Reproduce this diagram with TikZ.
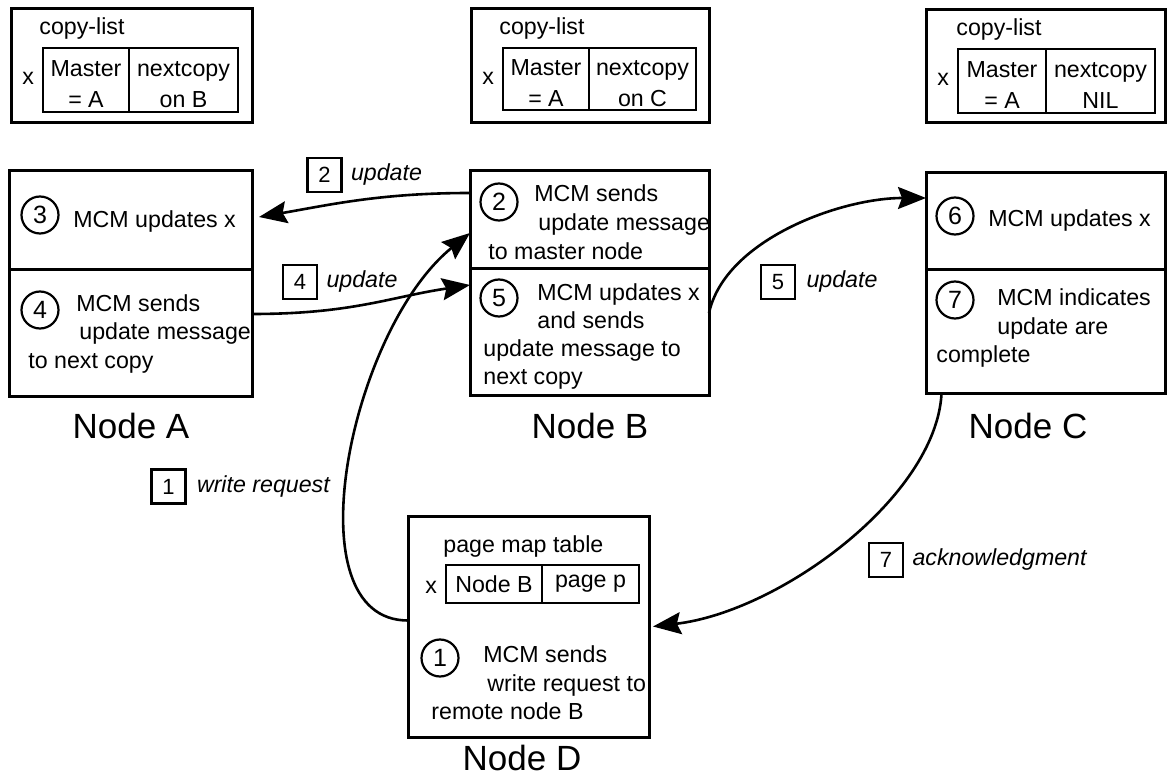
\documentclass[tikz,border=0pt]{standalone}
\usepackage{fontspec}
\setmainfont{Liberation Sans}
\usetikzlibrary{arrows.meta,positioning}

\begin{document}
\begin{tikzpicture}[x=0.5pt,y=-0.5pt,
	every node/.style={font=\fontsize{11.6}{15.5}\selectfont},
	box/.style={draw,line width=1.5pt,anchor=north west,inner sep=0pt,outer sep=0pt},
	cell/.style={draw,line width=1.2pt,anchor=north west,inner sep=0pt,outer sep=0pt,align=center},
	txt/.style={anchor=base west,inner sep=0pt},
	num/.style={circle,draw,line width=1.1pt,minimum size=18.5pt,inner sep=0pt,font=\fontsize{12.5}{14}\selectfont},
	tag/.style={draw,line width=1.1pt,minimum size=17pt,inner sep=0pt,font=\fontsize{11}{13}\selectfont},
	lbl/.style={inner sep=0pt,font=\fontsize{11.6}{14}\selectfont\itshape},
	title/.style={anchor=base,inner sep=0pt,font=\fontsize{17.5}{20}\selectfont},
	conn/.style={line width=1.3pt,-{Stealth[length=14pt,width=11pt,inset=2pt]}}]
	\useasboundingbox (0,0) rectangle (1167,780);

	\node[box,minimum width=120.5pt,minimum height=57pt] (listA) at (11,9) {};
	\node[txt] (listAt) at (39,35) {copy-list};
	\node[txt] (listAx) at (22,85) {x};
	\node[cell,minimum width=43pt,minimum height=32pt] (mastA) at (43,48) {\rule{0pt}{12.5pt}Master\\= A};
	\node[cell,minimum width=54.5pt,minimum height=32pt] (nextA) at (mastA.north east) {\rule{0pt}{12.5pt}nextcopy\\on B};

	\node[box,minimum width=119pt,minimum height=57pt] (listB) at (471,9) {};
	\node[txt] (listBt) at (499,35) {copy-list};
	\node[txt] (listBx) at (482,85) {x};
	\node[cell,minimum width=43pt,minimum height=31pt] (mastB) at (503,48) {\rule{0pt}{12.5pt}Master\\= A};
	\node[cell,minimum width=53.5pt,minimum height=31pt] (nextB) at (mastB.north east) {\rule{0pt}{12.5pt}nextcopy\\on C};

	\node[box,minimum width=119.5pt,minimum height=56.5pt] (listC) at (926,10) {};
	\node[txt] (listCt) at (956,36) {copy-list};
	\node[txt] (listCx) at (937,86) {x};
	\node[cell,minimum width=44pt,minimum height=32pt] (mastC) at (958,49) {\rule{0pt}{12.5pt}Master\\= A};
	\node[cell,minimum width=54.5pt,minimum height=32pt] (nextC) at (mastC.north east) {\rule{0pt}{12.5pt}nextcopy\\NIL};

	\node[box,minimum width=121.5pt,minimum height=49.5pt] (aUp) at (9,171) {};
	\node[box,minimum width=121.5pt,minimum height=63.5pt] (aLow) at (aUp.south west) {};
	\node[num] (a3) at (40,215) {3};
	\node[txt] (a3l1) at (73,228) {MCM updates x};
	\node[num] (a4) at (40,310) {4};
	\node[txt] (a4l1) at (76,312) {MCM sends};
	\node[txt] (a4l2) at (79,340) {update message};
	\node[txt] (a4l3) at (28,369) {to next copy};
	\node[title] (titleA) at (131,438) {Node A};

	\node[box,minimum width=119.5pt,minimum height=49pt] (bUp) at (470,171) {};
	\node[box,minimum width=119.5pt,minimum height=63.5pt] (bLow) at (bUp.south west) {};
	\node[num] (b2) at (499,202) {2};
	\node[txt] (b2l1) at (534,202) {MCM sends};
	\node[txt] (b2l2) at (538,231) {update message};
	\node[txt] (b2l3) at (488,260) {to master node};
	\node[num] (b5) at (499,298) {5};
	\node[txt] (b5l1) at (537,301) {MCM updates x};
	\node[txt] (b5l2) at (537,329) {and sends};
	\node[txt] (b5l3) at (483,357) {update message to};
	\node[txt] (b5l4) at (483,385) {next copy};
	\node[title] (titleB) at (590,438) {Node B};

	\node[box,minimum width=119.5pt,minimum height=48.5pt] (cUp) at (926,173) {};
	\node[box,minimum width=119.5pt,minimum height=62pt] (cLow) at (cUp.south west) {};
	\node[num] (c6) at (955,216) {6};
	\node[txt] (c6l1) at (988,227) {MCM updates x};
	\node[num] (c7) at (955,300) {7};
	\node[txt] (c7l1) at (997,306) {MCM indicates};
	\node[txt] (c7l2) at (997,335) {update are};
	\node[txt] (c7l3) at (936,363) {complete};
	\node[title] (titleC) at (1028,438) {Node C};

	\node[box,minimum width=120.5pt,minimum height=110.5pt] (dBox) at (408,516) {};
	\node[txt] (mapt) at (443,552) {page map table};
	\node[txt] (mapx) at (425,593) {x};
	\node[cell,minimum width=48pt,minimum height=19pt] (mapNode) at (446,565) {Node B};
	\node[cell,minimum width=48.5pt,minimum height=19pt] (mapPage) at (mapNode.north east) {page p};
	\node[num] (d1) at (440,658) {1};
	\node[txt] (d1l1) at (483,662) {MCM sends};
	\node[txt] (d1l2) at (487,691) {write request to};
	\node[txt] (d1l3) at (431,719) {remote node B};
	\node[title] (titleD) at (522,770) {Node D};

	\node[tag] (t1) at (168.5,486.5) {1};
	\node[lbl,right=5pt of t1] (l1) {write request};
	\node[tag] (t2) at (324.5,175) {2};
	\node[lbl,right=4pt of t2] (l2) {update};
	\node[tag] (t4) at (300,282) {4};
	\node[lbl,right=4pt of t4] (l4) {update};
	\node[tag] (t5) at (778,282) {5};
	\node[lbl,right=5pt of t5] (l5) {update};
	\node[tag] (t7) at (886,560) {7};
	\node[lbl,right=4pt of t7] (l7) {acknowledgment};

	\draw[conn] ([yshift=3pt]dBox.west) .. controls +(-118,0) and +(-120,97) .. ([yshift=-6.5pt]bUp.west);
	\draw[conn] ([yshift=13.5pt]bUp.west) .. controls +(-90,0) and +(70,-12) .. ([xshift=3.5pt,yshift=1.75pt]aUp.east);
	\draw[conn] ([yshift=9.75pt]aLow.east) .. controls +(100,0) and +(-80,12) .. ([yshift=23.75pt]bLow.west);
	\draw[conn] ([yshift=9.75pt]bLow.east) .. controls +(16,-73) and +(-86,0) .. ([yshift=11.75pt]cUp.west);
	\draw[conn] ([xshift=-52pt]cLow.south) .. controls +(-6,103) and +(127,-15) .. ([xshift=2pt]dBox.east);
\end{tikzpicture}
\end{document}
